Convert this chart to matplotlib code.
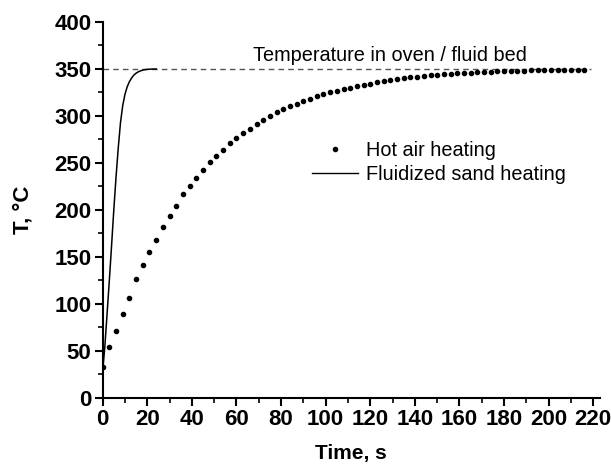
import matplotlib
matplotlib.use("Agg")
import matplotlib.pyplot as plt
from matplotlib.ticker import MultipleLocator
from matplotlib.lines import Line2D

plt.rcParams['font.family'] = ['Liberation Sans', 'DejaVu Sans']

# Hot air heating: sample every 3 s
air_time = [0, 3, 6, 9, 12, 15, 18, 21, 24, 27, 30, 33, 36, 39, 42, 45, 48, 51,
            54, 57, 60, 63, 66, 69, 72, 75, 78, 81, 84, 87, 90, 93, 96, 99, 102,
            105, 108, 111, 114, 117, 120, 123, 126, 129, 132, 135, 138, 141, 144,
            147, 150, 153, 156, 159, 162, 165, 168, 171, 174, 177, 180, 183, 186,
            189, 192, 195, 198, 201, 204, 207, 210, 213, 216]
air_temp = [33, 54, 71, 89, 106, 126, 141, 155, 168, 182, 193.5, 204, 217, 225.5,
            234, 242, 250.5, 257.5, 264, 271, 277, 282, 286, 291.5, 295.5, 299.5,
            304, 307.5, 310.5, 313, 316, 318, 321, 323, 325, 327, 328.5, 330,
            331.5, 333, 334.5, 336, 337, 338, 339, 340, 341, 341.8, 342.5, 343.2,
            343.8, 344.3, 344.8, 345.3, 345.7, 346.1, 346.5, 346.8, 347.1, 347.4,
            347.6, 347.9, 348.1, 348.3, 348.5, 348.6, 348.8, 348.9, 349.0, 349.1,
            349.2, 349.3, 349.4]

# Fluidized sand heating
sand_time = [0, 1, 2, 3, 4, 5, 6, 7, 8, 9, 10, 11, 12, 13, 14, 15, 16, 17, 18,
             19, 20, 22, 24]
sand_temp = [28, 55, 90, 125, 162, 200, 235, 266, 293, 311, 323, 331, 336.5,
             340.5, 343.5, 345.5, 347, 348, 348.8, 349.3, 349.6, 349.9, 350]

oven_temp = 350
oven_span = [0, 219]

fig = plt.figure(figsize=(6.11, 4.68), dpi=100)
ax = fig.add_axes([0.168, 0.150, 0.814, 0.803])

ax.plot(oven_span, [oven_temp, oven_temp], color='#555555', lw=1.0,
        ls=(0, (4, 3)))
ax.plot(air_time, air_temp, ls='none', marker='o', ms=3.0, color='black')
ax.plot(sand_time, sand_temp, color='black', lw=1.1)

ax.text(67.5, 359, 'Temperature in oven / fluid bed',
        fontsize=14.3, ha='left', va='baseline')

handles = [Line2D([], [], ls='none', marker='o', ms=3.0, color='black'),
           Line2D([], [], color='black', lw=1.0)]
ax.legend(handles, ['Hot air heating', 'Fluidized sand heating'],
          loc='upper left', bbox_to_anchor=(0.401, 0.71), frameon=False,
          fontsize=14.3, handlelength=2.3, handletextpad=0.4,
          labelspacing=0.25, borderpad=0)

ax.set_xlim(0, 223)
ax.set_ylim(0, 400)
ax.xaxis.set_major_locator(MultipleLocator(20))
ax.xaxis.set_minor_locator(MultipleLocator(10))
ax.yaxis.set_major_locator(MultipleLocator(50))
ax.yaxis.set_minor_locator(MultipleLocator(25))

for side in ('top', 'right'):
    ax.spines[side].set_visible(False)
for side in ('left', 'bottom'):
    ax.spines[side].set_linewidth(1.5)

ax.tick_params(which='major', direction='out', length=6, width=1.5,
               labelsize=16, pad=2)
ax.tick_params(which='minor', direction='out', length=3.5, width=1.2)
for lbl in ax.get_xticklabels() + ax.get_yticklabels():
    lbl.set_fontweight('bold')

ax.set_xlabel('Time, s', fontsize=15, fontweight='bold', labelpad=10)
ax.set_ylabel('T, °C', fontsize=16, fontweight='bold', labelpad=15)

fig.savefig('out.png', dpi=100)
